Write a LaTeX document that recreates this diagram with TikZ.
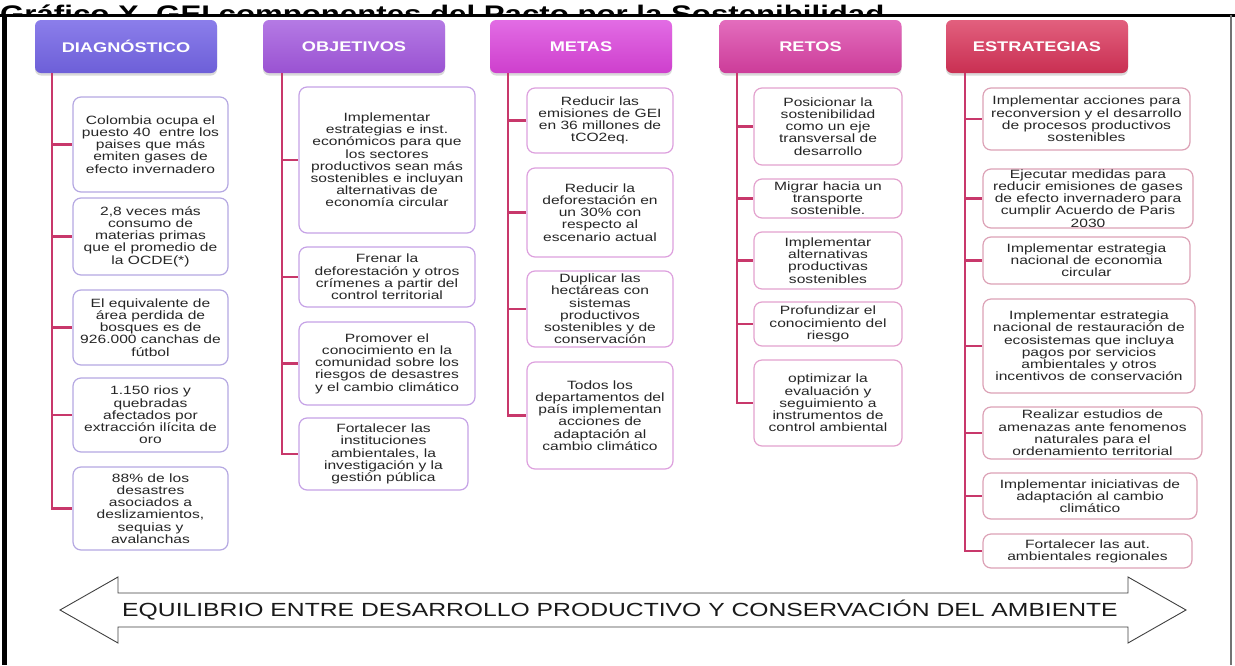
\documentclass[tikz,border=0pt]{standalone}
\usepackage{fontspec}
\usetikzlibrary{shadows}
\newfontfamily\bxf[FakeStretch=1.3]{Liberation Sans}
\definecolor{txt}{HTML}{262626}
\definecolor{trunkc}{HTML}{C8386B}
\definecolor{hAt}{HTML}{8B7EEA}\definecolor{hAb}{HTML}{6D5FD8}
\definecolor{hBt}{HTML}{B47AE4}\definecolor{hBb}{HTML}{9A52D2}
\definecolor{hCt}{HTML}{E26CE4}\definecolor{hCb}{HTML}{CE3FCD}
\definecolor{hDt}{HTML}{E36DBD}\definecolor{hDb}{HTML}{CC3C99}
\definecolor{hEt}{HTML}{E2607E}\definecolor{hEb}{HTML}{C92F52}
\definecolor{bA}{HTML}{B5A8E2}
\definecolor{bB}{HTML}{C5A2E6}
\definecolor{bC}{HTML}{DDA0DE}
\definecolor{bD}{HTML}{E3A2CE}
\definecolor{bE}{HTML}{DCA2B6}
\begin{document}
\begin{tikzpicture}[x=1pt,y=-1pt,
  hdr/.style 2 args={rounded corners=6pt, minimum width=182pt, minimum height=53pt,
    top color=#1, bottom color=#2, draw=none, text=white,
    font=\bxf\bfseries\fontsize{14}{14}\selectfont,
    drop shadow={opacity=0.3, shadow xshift=0pt, shadow yshift=-2.5pt}},
  cbox/.style={draw=#1, line width=1.2pt, rounded corners=8pt, fill=white,
    align=center, text=txt, inner sep=0pt,
    font=\bxf\fontsize{12}{12.2}\selectfont},
  trunk/.style={draw=trunkc, line width=2.5pt},
  eqarrow/.style={draw=black!75, line width=0.9pt, fill=white}
]
\useasboundingbox (0,0) rectangle (1235,665);

% cut-off title
\begin{scope}
  \clip (0,0) rectangle (1235,13);
  \node[anchor=base west, inner sep=0pt, text=black,
        font=\bxf\bfseries\fontsize{24}{24}\selectfont] (title) at (0,22)
        {Gráfico X. GEI componentes del Pacto por la Sostenibilidad};
\end{scope}

% frame
\draw[line width=3.5pt] (0,15.5) -- (1235,15.5);
\fill[black] (2,14) rectangle (7,665);
\draw[line width=1.5pt, black!55] (1231,15) -- (1231,665);

% headers
\node[hdr={hAt}{hAb}] (hA) at (126,46.5) {DIAGNÓSTICO};
\node[hdr={hBt}{hBb}] (hB) at (354,46.5) {OBJETIVOS};
\node[hdr={hCt}{hCb}] (hC) at (581,46.5) {METAS};
\node[hdr={hDt}{hDb}] (hD) at (810.5,46.5) {RETOS};
\node[hdr={hEt}{hEb}] (hE) at (1037,46.5) {ESTRATEGIAS};

% DIAGNOSTICO
\node[cbox=bA, minimum width=155pt, minimum height=95pt] (d1) at (150.5,144.5)
 {Colombia ocupa el\\puesto 40\ \ entre los\\paises que más\\emiten gases de\\efecto invernadero};
\node[cbox=bA, minimum width=155pt, minimum height=77pt] (d2) at (150.5,236.5)
 {2,8 veces más\\consumo de\\materias primas\\que el promedio de\\la OCDE(*)};
\node[cbox=bA, minimum width=155pt, minimum height=75pt] (d3) at (150.5,327.5)
 {El equivalente de\\área perdida de\\bosques es de\\926.000 canchas de\\fútbol};
\node[cbox=bA, minimum width=155pt, minimum height=74pt] (d4) at (150.5,415)
 {1.150 rios y\\quebradas\\afectados por\\extracción ilícita de\\oro};
\node[cbox=bA, minimum width=155pt, minimum height=83pt] (d5) at (150.5,508.5)
 {88\% de los\\desastres\\asociados a\\deslizamientos,\\sequias y\\avalanchas};

% OBJETIVOS
\node[cbox=bB, minimum width=176pt, minimum height=146pt] (o1) at (387,160)
 {Implementar\\estrategias e inst.\\económicos para que\\los sectores\\productivos sean más\\sostenibles e incluyan\\alternativas de\\economía circular};
\node[cbox=bB, minimum width=176pt, minimum height=60pt] (o2) at (387,277)
 {Frenar la\\deforestación y otros\\crímenes a partir del\\control territorial};
\node[cbox=bB, minimum width=176pt, minimum height=83pt] (o3) at (387,363.5)
 {Promover el\\conocimiento en la\\comunidad sobre los\\riesgos de desastres\\y el cambio climático};
\node[cbox=bB, minimum width=169pt, minimum height=72pt] (o4) at (383.5,454)
 {Fortalecer las\\instituciones\\ambientales, la\\investigación y la\\gestión pública};

% METAS
\node[cbox=bC, minimum width=146pt, minimum height=65pt] (m1) at (600,120.5)
 {Reducir las\\emisiones de GEI\\en 36 millones de\\tCO2eq.};
\node[cbox=bC, minimum width=146pt, minimum height=89pt] (m2) at (600,212.5)
 {Reducir la\\deforestación en\\un 30\% con\\respecto al\\escenario actual};
\node[cbox=bC, minimum width=146pt, minimum height=76pt] (m3) at (600,309)
 {Duplicar las\\hectáreas con\\sistemas\\productivos\\sostenibles y de\\conservación};
\node[cbox=bC, minimum width=146pt, minimum height=107pt] (m4) at (600,415.5)
 {Todos los\\departamentos del\\país implementan\\acciones de\\adaptación al\\cambio climático};

% RETOS
\node[cbox=bD, minimum width=148pt, minimum height=77pt] (r1) at (828,126.5)
 {Posicionar la\\sostenibilidad\\como un eje\\transversal de\\desarrollo};
\node[cbox=bD, minimum width=148pt, minimum height=39pt] (r2) at (828,198.5)
 {Migrar hacia un\\transporte\\sostenible.};
\node[cbox=bD, minimum width=148pt, minimum height=57pt] (r3) at (828,260.5)
 {Implementar\\alternativas\\productivas\\sostenibles};
\node[cbox=bD, minimum width=148pt, minimum height=44pt] (r4) at (828,324)
 {Profundizar el\\conocimiento del\\riesgo};
\node[cbox=bD, minimum width=148pt, minimum height=86pt] (r5) at (828,403)
 {optimizar la\\evaluación y\\seguimiento a\\instrumentos de\\control ambiental};

% ESTRATEGIAS
\node[cbox=bE, minimum width=207pt, minimum height=62pt] (e1) at (1086.5,119)
 {Implementar acciones para\\reconversion y el desarrollo\\de procesos productivos\\sostenibles};
\node[cbox=bE, minimum width=210pt, minimum height=59pt] (e2) at (1088,198.5)
 {Ejecutar medidas para\\reducir emisiones de gases\\de efecto invernadero para\\cumplir Acuerdo de Paris\\2030};
\node[cbox=bE, minimum width=207pt, minimum height=47pt] (e3) at (1086.5,260.5)
 {Implementar estrategia\\nacional de economia\\circular};
\node[cbox=bE, minimum width=212pt, minimum height=94pt] (e4) at (1089,346)
 {Implementar estrategia\\nacional de restauración de\\ecosistemas que incluya\\pagos por servicios\\ambientales y otros\\incentivos de conservación};
\node[cbox=bE, minimum width=219pt, minimum height=52pt] (e5) at (1092.5,433)
 {Realizar estudios de\\amenazas ante fenomenos\\naturales para el\\ordenamiento territorial};
\node[cbox=bE, minimum width=214pt, minimum height=46pt] (e6) at (1090,496)
 {Implementar iniciativas de\\adaptación al cambio\\climático};
\node[cbox=bE, minimum width=209pt, minimum height=34pt] (e7) at (1087.5,551)
 {Fortalecer las aut.\\ambientales regionales};

% trunks and branches
\coordinate (tA) at (52,73);
\coordinate (tB) at (282,73);
\coordinate (tC) at (508,73);
\coordinate (tD) at (737,73);
\coordinate (tE) at (965,73);
\draw[trunk] (tA) |- (d5.west);
\foreach \n in {d1,d2,d3,d4} \draw[trunk] (tA |- \n.west) -- (\n.west);
\draw[trunk] (tB) |- (o4.west);
\foreach \n in {o1,o2,o3} \draw[trunk] (tB |- \n.west) -- (\n.west);
\draw[trunk] (tC) |- (m4.west);
\foreach \n in {m1,m2,m3} \draw[trunk] (tC |- \n.west) -- (\n.west);
\draw[trunk] (tD) |- (r5.west);
\foreach \n in {r1,r2,r3,r4} \draw[trunk] (tD |- \n.west) -- (\n.west);
\draw[trunk] (tE) |- (e7.west);
\foreach \n in {e1,e2,e3,e4,e5,e6} \draw[trunk] (tE |- \n.west) -- (\n.west);

% bottom double arrow
\draw[eqarrow] (60,610) -- (118,577) -- (118,593) -- (1128,593) -- (1128,577)
  -- (1186,610) -- (1128,643) -- (1128,627) -- (118,627) -- (118,643) -- cycle;
\node[inner sep=0pt, text=black!90, font=\bxf\fontsize{19}{19}\selectfont] (eq) at (620,610)
 {EQUILIBRIO ENTRE DESARROLLO PRODUCTIVO Y CONSERVACIÓN DEL AMBIENTE};
\end{tikzpicture}
\end{document}
